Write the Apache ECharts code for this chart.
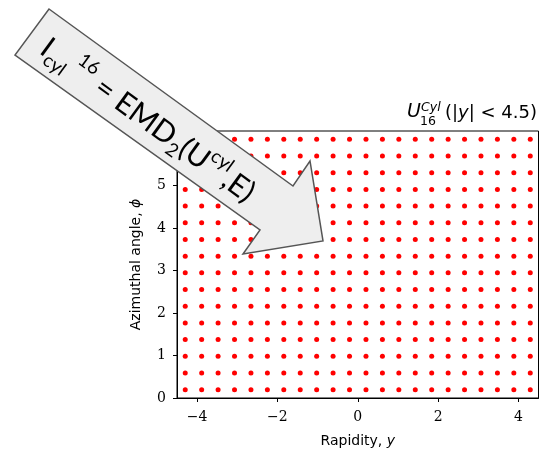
<!DOCTYPE html>
<html>
<head>
<meta charset="utf-8">
<script src="https://cdn.jsdelivr.net/npm/echarts@6/dist/echarts.min.js"></script>
<style>html,body{margin:0;padding:0;background:#fff}#c{width:539px;height:450px}</style>
</head>
<body>
<div id="c"></div>
<script>
// Rapidity centres of the grid columns (22 columns over |y| < 4.5)
const rapidity = [-4.295, -3.886, -3.477, -3.068, -2.659, -2.250, -1.841, -1.432, -1.023, -0.614, -0.205,
                  0.205, 0.614, 1.023, 1.432, 1.841, 2.250, 2.659, 3.068, 3.477, 3.886, 4.295];
// Azimuthal angle centres of the grid rows (16 rows over 0..2pi)
const phi = [0.196, 0.589, 0.982, 1.374, 1.767, 2.160, 2.553, 2.945, 3.338, 3.731, 4.123, 4.516, 4.909, 5.301, 5.694, 6.087];
const xTicks = [-4, -2, 0, 2, 4];
const yTicks = [0, 1, 2, 3, 4, 5, 6];
const xRange = [-4.5, 4.5];
const yRange = [0, 2 * Math.PI];

const points = [];
for (const y of rapidity) for (const p of phi) points.push([y, p]);

const chart = echarts.init(document.getElementById('c'), null, {renderer: 'canvas'});
const fmt = v => String(v).replace('-', '\u2212');
const tickFont = {fontFamily: 'DejaVu Serif', fontSize: 14, color: '#000'};

chart.setOption({
  animation: false,
  backgroundColor: '#fff',
  grid: {left: 177, right: 0.5, top: 131, bottom: 52, show: true, borderColor: '#000', borderWidth: 1, backgroundColor: 'transparent',
         containLabel: false, outerBoundsMode: 'none'},
  xAxis: {
    type: 'value', min: xRange[0], max: xRange[1],
    splitLine: {show: false},
    axisLine: {show: true, onZero: false, lineStyle: {color: '#000', width: 1}},
    axisTick: {show: true, inside: false, length: 4, lineStyle: {color: '#000'}, customValues: xTicks},
    axisLabel: {show: true, margin: 12, formatter: fmt, customValues: xTicks, ...tickFont},
    name: '{a|Rapidity, }{i|y}', nameLocation: 'middle', nameGap: 36,
    nameTextStyle: {rich: {a: {fontFamily: 'DejaVu Sans', fontSize: 14, color: '#000'}, i: {fontFamily: 'DejaVu Sans', fontStyle: 'italic', fontSize: 14, color: '#000'}}}
  },
  yAxis: {
    type: 'value', min: yRange[0], max: yRange[1],
    splitLine: {show: false},
    axisLine: {show: true, onZero: false, lineStyle: {color: '#000', width: 1}},
    axisTick: {show: true, inside: false, length: 4, lineStyle: {color: '#000'}, customValues: yTicks},
    axisLabel: {show: true, margin: 11, formatter: fmt, customValues: yTicks, ...tickFont},
    name: '{a|Azimuthal angle, }{i|\u03D5}', nameLocation: 'middle', nameGap: 34, nameRotate: 90,
    nameTextStyle: {rich: {a: {fontFamily: 'DejaVu Sans', fontSize: 14, color: '#000'}, i: {fontFamily: 'DejaVu Sans', fontStyle: 'italic', fontSize: 14, color: '#000'}}}
  },
  series: [{
    type: 'scatter', data: points, symbol: 'circle', symbolSize: 5,
    itemStyle: {color: '#ff0000', opacity: 1}, z: 2
  }],
  graphic: [
    // title
    {type: 'text', x: 537, y: 122, z: 50, style: {
      text: '{n|(|}{i|y}{n|| < 4.5)}', align: 'right', verticalAlign: 'bottom',
      rich: {n: {fontFamily: 'DejaVu Sans', fontSize: 18, color: '#000'}, i: {fontFamily: 'DejaVu Sans', fontStyle: 'italic', fontSize: 18, color: '#000'}}
    }},
    {type: 'text', x: 407, y: 122, z: 50, style: {text: 'U', fontFamily: 'DejaVu Sans', fontStyle: 'italic', fontSize: 19, fill: '#000', align: 'left', verticalAlign: 'bottom'}},
    {type: 'text', x: 421, y: 114, z: 50, style: {text: 'Cyl', fontFamily: 'DejaVu Sans', fontStyle: 'italic', fontSize: 12.5, fill: '#000', align: 'left', verticalAlign: 'bottom'}},
    {type: 'text', x: 420, y: 128, z: 50, style: {text: '16', fontFamily: 'DejaVu Sans', fontSize: 12.5, fill: '#000', align: 'left', verticalAlign: 'bottom'}},
    // annotation arrow
    {type: 'polygon', z: 100, shape: {points: [[49, 9], [293, 186], [310, 161], [323, 241], [243, 254], [260, 230], [15, 55]]},
      style: {fill: '#eeeeee', stroke: '#555555', lineWidth: 1.5}},
    {type: 'text', z: 101, x: 44, y: 45, rotation: -36 * Math.PI / 180, style: {
      text: '{m|I}{sub|cyl}{sp| }{sup|16}{m| = EMD}{sub|2}{m|(U}{sup|cyl}{m|,E)}',
      align: 'left', verticalAlign: 'middle',
      rich: {
        m: {fontFamily: 'Lato', fontSize: 30, color: '#000'},
        sp: {fontFamily: 'Lato', fontSize: 20, color: '#000'},
        sub: {fontFamily: 'Lato', fontSize: 19, color: '#000', padding: [20, 0, 0, 0]},
        sup: {fontFamily: 'Lato', fontSize: 19, color: '#000', padding: [0, 0, 22, 0]}
      }
    }}
  ]
});
</script>
</body>
</html>
